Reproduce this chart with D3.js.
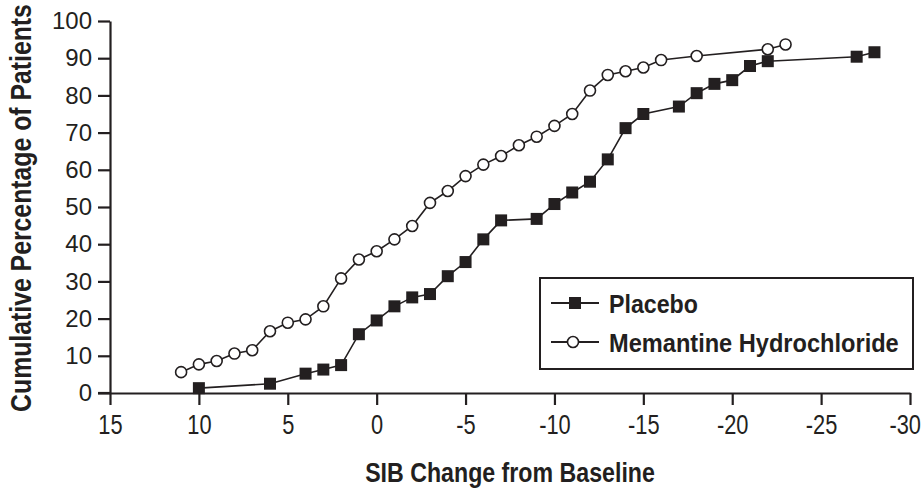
<!DOCTYPE html>
<html>
<head>
<meta charset="utf-8">
<script src="https://cdn.jsdelivr.net/npm/d3@7"></script>
<style>
  body { margin: 0; background: #fff; }
  text { font-family: "Liberation Sans", Arial, sans-serif; fill: #231f20; }
</style>
</head>
<body>
<svg id="chart" width="924" height="489"></svg>
<script>
// SIB change from baseline (x) vs cumulative % of patients (y)
const memX = [11, 10, 9, 8, 7, 6, 5, 4, 3, 2, 1, 0, -1, -2, -3, -4, -5, -6, -7, -8, -9, -10, -11, -12, -13, -14, -15, -16, -18, -22, -23];
const memY = [5.6, 7.7, 8.6, 10.6, 11.5, 16.6, 18.9, 19.8, 23.3, 30.8, 35.9, 38.1, 41.3, 44.9, 51.1, 54.3, 58.3, 61.4, 63.7, 66.6, 68.9, 71.8, 75.0, 81.3, 85.5, 86.5, 87.5, 89.5, 90.6, 92.4, 93.7];

const plaX = [10, 6, 4, 3, 2, 1, 0, -1, -2, -3, -4, -5, -6, -7, -9, -10, -11, -12, -13, -14, -15, -17, -18, -19, -20, -21, -22, -27, -28];
const plaY = [1.3, 2.5, 5.2, 6.3, 7.5, 15.8, 19.5, 23.3, 25.7, 26.6, 31.4, 35.2, 41.3, 46.4, 46.8, 50.8, 53.9, 56.8, 62.8, 71.2, 75.0, 77.0, 80.6, 83.1, 84.1, 87.9, 89.2, 90.4, 91.6];

const xTicks = [15, 10, 5, 0, -5, -10, -15, -20, -25, -30];
const yTicks = [0, 10, 20, 30, 40, 50, 60, 70, 80, 90, 100];
const seriesNames = ['Placebo', 'Memantine Hydrochloride'];

const svg = d3.select('#chart');
const ink = '#231f20';

const x = d3.scaleLinear().domain([15, -30]).range([110, 910]);
const y = d3.scaleLinear().domain([0, 100]).range([393, 21]);

// squeeze a text horizontally so it takes `w` px (the original uses a condensed face)
const squeeze = (sel, w) => {
  const natural = sel.node().getComputedTextLength();
  const k = Math.min(1, w / natural);
  sel.attr('transform', 'scale(' + k + ',1)');
};

// axes
const xAxis = svg.append('g')
  .attr('transform', 'translate(0,' + y(0) + ')')
  .call(d3.axisBottom(x).tickValues(xTicks).tickSize(12).tickSizeOuter(0).tickPadding(9).tickFormat(d => String(d)));
xAxis.selectAll('text')
  .style('font-size', '28px')
  .attr('transform', 'scale(0.78,1)');
// keep the last label inside the picture
xAxis.selectAll('text').each(function () {
  const r = this.getBoundingClientRect();
  if (r.right > 921) d3.select(this).attr('x', -(r.right - 921) / 0.78);
});

const yAxis = svg.append('g')
  .attr('transform', 'translate(' + x(15) + ',0)')
  .call(d3.axisLeft(y).tickValues(yTicks).tickSize(12).tickSizeOuter(0).tickPadding(6));
yAxis.selectAll('text').style('font-size', '24px');

svg.selectAll('.domain, .tick line').attr('stroke', ink).attr('stroke-width', 2.2);
svg.selectAll('.tick text').attr('fill', ink);

// x axis line runs a little past the y axis
svg.append('line')
  .attr('x1', x(15) - 12).attr('x2', x(15))
  .attr('y1', y(0)).attr('y2', y(0))
  .attr('stroke', ink).attr('stroke-width', 2.2);

// titles
const xTitle = svg.append('g').attr('transform', 'translate(' + (x(15) + x(-30)) / 2 + ',482)')
  .append('text')
  .attr('text-anchor', 'middle')
  .style('font-size', '28px')
  .style('font-weight', 'bold')
  .text('SIB Change from Baseline');
squeeze(xTitle, 290);

const yTitle = svg.append('g').attr('transform', 'translate(31,208) rotate(-90)')
  .append('text')
  .attr('text-anchor', 'middle')
  .style('font-size', '29px')
  .style('font-weight', 'bold')
  .text('Cumulative Percentage of Patients');
squeeze(yTitle, 408);

// lines
const line = d3.line().x(d => x(d[0])).y(d => y(d[1]));
const mem = memX.map((d, i) => [d, memY[i]]);
const pla = plaX.map((d, i) => [d, plaY[i]]);

svg.append('path').datum(mem)
  .attr('d', line).attr('fill', 'none').attr('stroke', ink).attr('stroke-width', 1.6);
svg.append('path').datum(pla)
  .attr('d', line).attr('fill', 'none').attr('stroke', ink).attr('stroke-width', 1.6);

svg.selectAll('.mem').data(mem).enter().append('circle')
  .attr('class', 'mem')
  .attr('cx', d => x(d[0])).attr('cy', d => y(d[1]))
  .attr('r', 5.5)
  .attr('fill', '#fff').attr('stroke', ink).attr('stroke-width', 1.6);

svg.selectAll('.pla').data(pla).enter().append('rect')
  .attr('class', 'pla')
  .attr('x', d => x(d[0]) - 6).attr('y', d => y(d[1]) - 6)
  .attr('width', 12).attr('height', 12)
  .attr('fill', ink);

// legend
const lg = svg.append('g').attr('transform', 'translate(540,278)');
lg.append('rect')
  .attr('width', 373).attr('height', 91)
  .attr('fill', '#fff').attr('stroke', ink).attr('stroke-width', 2);

const legendWidths = [89, 290];
seriesNames.forEach((name, i) => {
  const ly = 25 + i * 39;
  lg.append('line')
    .attr('x1', 11).attr('x2', 59).attr('y1', ly).attr('y2', ly)
    .attr('stroke', ink).attr('stroke-width', 2);
  if (i === 0) {
    lg.append('rect').attr('x', 29).attr('y', ly - 6).attr('width', 12).attr('height', 12).attr('fill', ink);
  } else {
    lg.append('circle').attr('cx', 33).attr('cy', ly).attr('r', 5.5)
      .attr('fill', '#fff').attr('stroke', ink).attr('stroke-width', 1.6);
  }
  const t = lg.append('g').attr('transform', 'translate(69,' + (ly + 10) + ')')
    .append('text')
    .style('font-size', '25px')
    .style('font-weight', 'bold')
    .text(name);
  squeeze(t, legendWidths[i]);
});
</script>
</body>
</html>
